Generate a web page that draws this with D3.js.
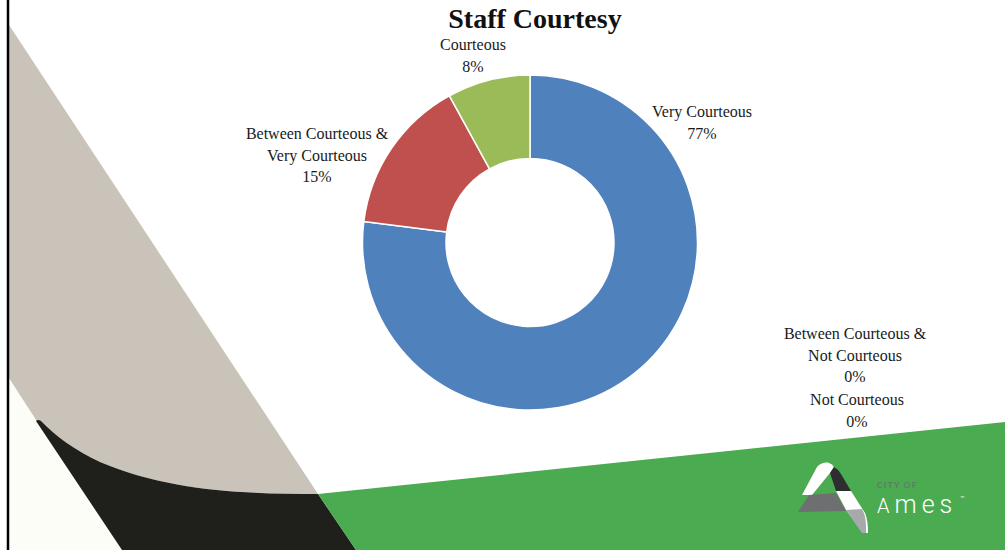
<!DOCTYPE html>
<html>
<head>
<meta charset="utf-8">
<script src="https://cdn.jsdelivr.net/npm/d3@7"></script>
<style>
  html, body { margin: 0; padding: 0; background: #ffffff; }
  svg { display: block; }
</style>
</head>
<body>
<svg id="chart" width="1005" height="550"></svg>
<script>
// Survey responses: staff courtesy ratings (percent of respondents)
const categories = [
  "Very Courteous",
  "Between Courteous & Very Courteous",
  "Courteous",
  "Between Courteous & Not Courteous",
  "Not Courteous"
];
const values = [77, 15, 8, 0, 0];
const valueLabels = ["77%", "15%", "8%", "0%", "0%"];
// Label text broken into lines as printed
const labelLines = [
  ["Very Courteous"],
  ["Between Courteous &", "Very Courteous"],
  ["Courteous"],
  ["Between Courteous &", "Not Courteous"],
  ["Not Courteous"]
];
const sliceColors = ["#4f81bd", "#c0504d", "#9bbb59", "#8064a2", "#4bacc6"];

// Layout: where each data label block is centred (x) and its first line sits (y)
const labelAnchors = [
  { x: 702, y: 117 },
  { x: 317, y: 139 },
  { x: 473, y: 50 },
  { x: 855, y: 339 },
  { x: 857, y: 405 }
];

const W = 1005, H = 550;
const svg = d3.select("#chart");

// ---- slide background decoration ----
const deco = svg.append("g").attr("class", "background");
deco.append("rect").attr("width", W).attr("height", H).attr("fill", "#ffffff");

// cream area at lower left
deco.append("path")
  .attr("d", "M9,370 L9,550 L130,550 L38,423 Z")
  .attr("fill", "#fdfdf7");

// beige diagonal band
deco.append("path")
  .attr("d", "M9,25 L318,494 C250,494 170,492 100,462 C75,450 55,436 38,423 L9,378 Z")
  .attr("fill", "#c9c3ba");

// black swoosh beneath it
deco.append("path")
  .attr("d", "M36,421 Q38,419 41,421 C55,436 75,450 100,462 C170,492 250,494 318,494 L356,550 L122,550 Z")
  .attr("fill", "#1f201c");

// green footer
deco.append("path")
  .attr("d", "M318,494 L1005,422 L1005,550 L356,550 Z")
  .attr("fill", "#4aab50");

// left border rule
deco.append("line")
  .attr("x1", 8).attr("x2", 8).attr("y1", 0).attr("y2", H)
  .attr("stroke", "#000").attr("stroke-width", 2.5);

// ---- City of Ames logo ----
const logo = svg.append("g").attr("class", "logo");
// left leg of the ribbon "A"
logo.append("path")
  .attr("d", "M802,495 L817,467 Q821,462 828,462.5 Q832,463.5 834,467 L830,473 L812,495 Z")
  .attr("fill", "#ffffff");
// shaded fold at the top of the right leg
logo.append("path")
  .attr("d", "M830,473 L834,467 Q838,469 841,474 L851,491 L836,491 Z")
  .attr("fill", "#2e2e30");
// lower right leg
logo.append("path")
  .attr("d", "M836,491 L851,491 L865,513 Q868,520 868,533 L863,533 L846,510 Z")
  .attr("fill", "#ffffff");
logo.append("path")
  .attr("d", "M846,510 L862,509 Q866,516 866,526 L866,533 L862,533 Z")
  .attr("fill", "#a7a9ac");
// crossbar
logo.append("path")
  .attr("d", "M809,495 L836,493 L846,511 L798,512 Z")
  .attr("fill", "#6e6f71");

logo.append("text")
  .attr("x", 877).attr("y", 487.5)
  .attr("font-family", "Lato, 'Open Sans', sans-serif")
  .attr("font-weight", 900)
  .attr("font-size", 8)
  .attr("letter-spacing", 1.5)
  .attr("fill", "#667a67")
  .text("CITY OF");

const word = logo.append("text")
  .attr("x", 877).attr("y", 512.5)
  .attr("font-family", "Roboto, Lato, sans-serif")
  .attr("font-weight", 300)
  .attr("letter-spacing", 5)
  .attr("fill", "#ffffff");
word.append("tspan").attr("font-size", 20).text("A");
word.append("tspan").attr("font-size", 25).text("mes");

logo.append("text")
  .attr("x", 960).attr("y", 501)
  .attr("font-family", "Roboto, sans-serif")
  .attr("font-size", 7)
  .attr("fill", "#ffffff")
  .text("™");

// ---- title ----
svg.append("text")
  .attr("x", 535).attr("y", 28)
  .attr("text-anchor", "middle")
  .attr("font-family", "'Liberation Serif', 'DejaVu Serif', serif")
  .attr("font-weight", 700)
  .attr("font-size", 28)
  .attr("fill", "#111")
  .text("Staff Courtesy");

// ---- doughnut ----
const cx = 530, cy = 242.5, rOuter = 167.5, rInner = 84;
const data = categories.map((c, i) => ({ category: c, value: values[i], i }));

const pie = d3.pie().value(d => d.value).sort(null).startAngle(0).endAngle(2 * Math.PI);
const arc = d3.arc().innerRadius(rInner).outerRadius(rOuter);

const color = d3.scaleOrdinal().domain(categories).range(sliceColors);

const g = svg.append("g").attr("transform", `translate(${cx},${cy})`);
g.selectAll("path.slice")
  .data(pie(data).filter(d => d.data.value > 0))
  .join("path")
  .attr("class", "slice")
  .attr("d", arc)
  .attr("fill", d => color(d.data.category))
  .attr("stroke", "#ffffff")
  .attr("stroke-width", 1.5)
  .attr("stroke-linejoin", "round");

// ---- data labels ----
const lineH = 21.5;
const labels = svg.append("g")
  .attr("font-family", "'Liberation Serif', 'DejaVu Serif', serif")
  .attr("font-size", 16)
  .attr("fill", "#1a1a1a")
  .attr("text-anchor", "middle");

data.forEach(d => {
  const a = labelAnchors[d.i];
  const lines = labelLines[d.i].concat([valueLabels[d.i]]);
  const t = labels.append("text").attr("x", a.x).attr("y", a.y);
  lines.forEach((ln, k) => {
    t.append("tspan").attr("x", a.x).attr("dy", k === 0 ? 0 : lineH).text(ln);
  });
});
</script>
</body>
</html>
